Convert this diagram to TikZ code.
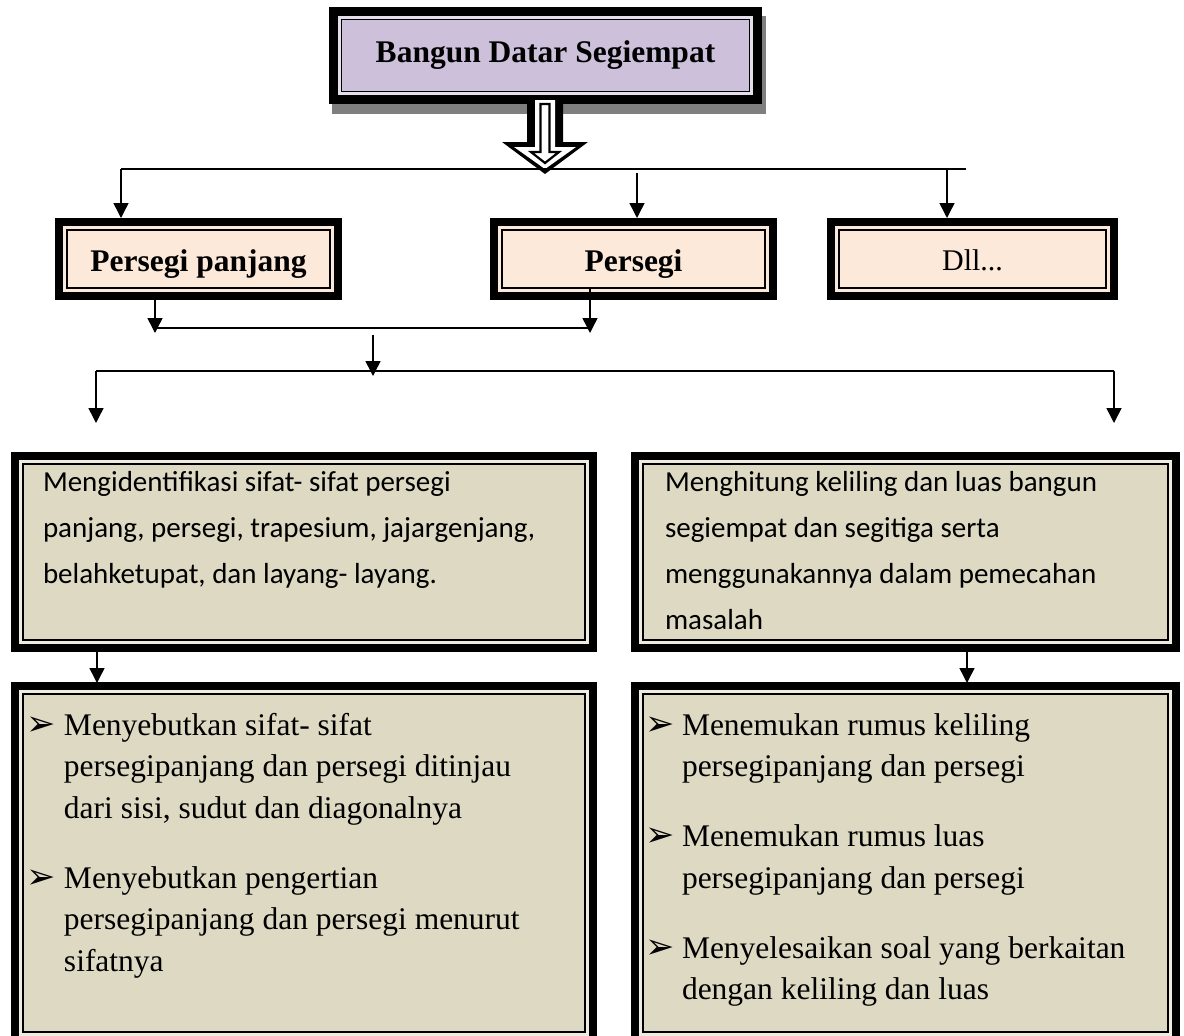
\documentclass[tikz,border=0pt]{standalone}
\usepackage{fontspec}
\setmainfont{Liberation Serif}
\newfontfamily\calibri{Carlito}
\newfontfamily\dejavu{DejaVu Sans}
\usepackage{xcolor}
\usepackage{tikz}
\usetikzlibrary{arrows.meta}

\definecolor{ungu}{HTML}{CCC0DA}
\definecolor{unguMuda}{HTML}{E5DFEC}
\definecolor{merahMuda}{HTML}{FDE9D9}
\definecolor{krem}{HTML}{DDD9C3}
\definecolor{kremMuda}{HTML}{EEECE1}
\definecolor{bayang}{HTML}{7F7F7F}

\newcommand{\butir}{\hangindent=37pt\hangafter=1\noindent\rule{0pt}{30pt}\makebox[37pt][l]{\raisebox{0pt}{\dejavu\fontsize{35}{35}\selectfont ➢}}}

\tikzset{
  isi/.store in=\warnaisi, isi=krem,
  kotak/.style={draw=black, line width=8pt, inner sep=0pt,
    path picture={\draw[line width=1.8pt, fill=\warnaisi]
      ([shift={(8pt,-8pt)}]path picture bounding box.north west) rectangle
      ([shift={(-8pt,8pt)}]path picture bounding box.south east);}},
  garis/.style={line width=1.5pt},
  panah/.style={line width=1.5pt, -{Triangle[width=15pt,length=15pt]}},
  judulteks/.style={font=\fontsize{31.5}{38}\selectfont\bfseries},
}

\begin{document}
\begin{tikzpicture}[x=1pt,y=-1pt]
\useasboundingbox (0,0) rectangle (1184,1036);
\clip (0,0) rectangle (1184,1036);
\fill[white] (0,0) rectangle (1184,1036);

\fill[bayang] (332,16) rectangle (766,114);
\node[kotak, fill=unguMuda, isi=ungu, line width=9pt, minimum width=424pt, minimum height=88pt,
  judulteks, text height=13pt, text depth=0pt] (judul) at (545.5,55.5) {Bangun Datar Segiempat};

\fill[black] (527,100) -- (563,100) -- (563,142) -- (588,142) -- (545,174) -- (502,142) -- (527,142) -- cycle;
\fill[white] (535,100) -- (555,100) -- (555,147) -- (576,147) -- (545,169) -- (514,147) -- (535,147) -- cycle;
\draw[line width=2.2pt, fill=white, line join=miter] (540.5,104) -- (549.5,104) -- (549.5,152) -- (559,152) -- (545,163) -- (531,152) -- (540.5,152) -- cycle;

\node[kotak, fill=merahMuda, isi=merahMuda, minimum width=279pt, minimum height=74pt,
  judulteks, text height=24pt, text depth=0pt] (pp) at (198.5,259) {Persegi panjang};
\node[kotak, fill=merahMuda, isi=merahMuda, minimum width=279pt, minimum height=74pt,
  judulteks, text height=24pt, text depth=0pt] (ps) at (633.5,259) {Persegi};
\node[kotak, fill=merahMuda, isi=merahMuda, minimum width=283pt, minimum height=74pt,
  font=\fontsize{30}{36}\selectfont, text height=22pt, text depth=0pt] (dll) at (972.5,259) {Dll...};

\node[kotak, fill=kremMuda, isi=krem, minimum width=578pt, minimum height=192pt] (sk1) at (304,552)
  {\parbox[c][190pt][t]{522pt}{\calibri\fontsize{29}{46}\selectfont\noindent\rule{0pt}{34pt}Mengidentifikasi sifat- sifat persegi\\
  panjang, persegi, trapesium, jajargenjang,\\
  belahketupat, dan layang- layang.}};
\node[kotak, fill=kremMuda, isi=krem, minimum width=541pt, minimum height=192pt] (sk2) at (905.5,552)
  {\parbox[c][190pt][t]{481pt}{\calibri\fontsize{29}{46}\selectfont\noindent\rule{0pt}{34pt}Menghitung keliling dan luas bangun\\
  segiempat dan segitiga serta\\
  menggunakannya dalam pemecahan\\
  masalah}};

\node[kotak, fill=kremMuda, isi=krem, minimum width=578pt, minimum height=354pt] (ind1) at (304,863)
  {\parbox[c][316pt][t]{554pt}{\fontsize{31.5}{41.5}\selectfont
  \butir Menyebutkan sifat- sifat\\
  persegipanjang dan persegi ditinjau\\
  dari sisi, sudut dan diagonalnya\par\vspace{28.5pt}
  \butir Menyebutkan pengertian\\
  persegipanjang dan persegi menurut\\
  sifatnya}};
\node[kotak, fill=kremMuda, isi=krem, minimum width=541pt, minimum height=354pt] (ind2) at (905.5,863)
  {\parbox[c][316pt][t]{521pt}{\fontsize{31.5}{41.5}\selectfont
  \butir Menemukan rumus keliling\\
  persegipanjang dan persegi\par\vspace{28.5pt}
  \butir Menemukan rumus luas\\
  persegipanjang dan persegi\par\vspace{28.5pt}
  \butir Menyelesaikan soal yang berkaitan\\
  dengan keliling dan luas}};

\coordinate (h1w) at (121,169);
\coordinate (h1e) at (966,169);
\coordinate (t2) at (637,173);
\coordinate (t3) at (947,169);
\draw[garis] (h1w) -- (h1e);
\draw[panah] (h1w) -- (h1w |- pp.north);
\draw[panah] (t2) -- (t2 |- ps.north);
\draw[panah] (t3) -- (t3 |- dll.north);

\coordinate (j1) at (155,333);
\coordinate (j2) at (590,333);
\coordinate (k1) at (155,328);
\coordinate (k2) at (590,328);
\draw[panah] (j1 |- pp.south) -- (j1);
\draw[panah] ([yshift=13pt]j2 |- ps.south) -- (j2);
\draw[garis] (k1) -- (k2);

\coordinate (j3) at (373,335);
\coordinate (h2w) at (96,371);
\coordinate (h2e) at (1114,371);
\draw[panah] (j3) -- ++(0,41);
\draw[garis] (h2w) -- (h2e);
\draw[panah] (h2w) -- ++(0,52);
\draw[panah] (h2e) -- ++(0,52);

\coordinate (q1) at (97,683);
\coordinate (q2) at (967,683);
\draw[panah] (q1 |- sk1.south) -- (q1);
\draw[panah] (q2 |- sk2.south) -- (q2);
\end{tikzpicture}
\end{document}
